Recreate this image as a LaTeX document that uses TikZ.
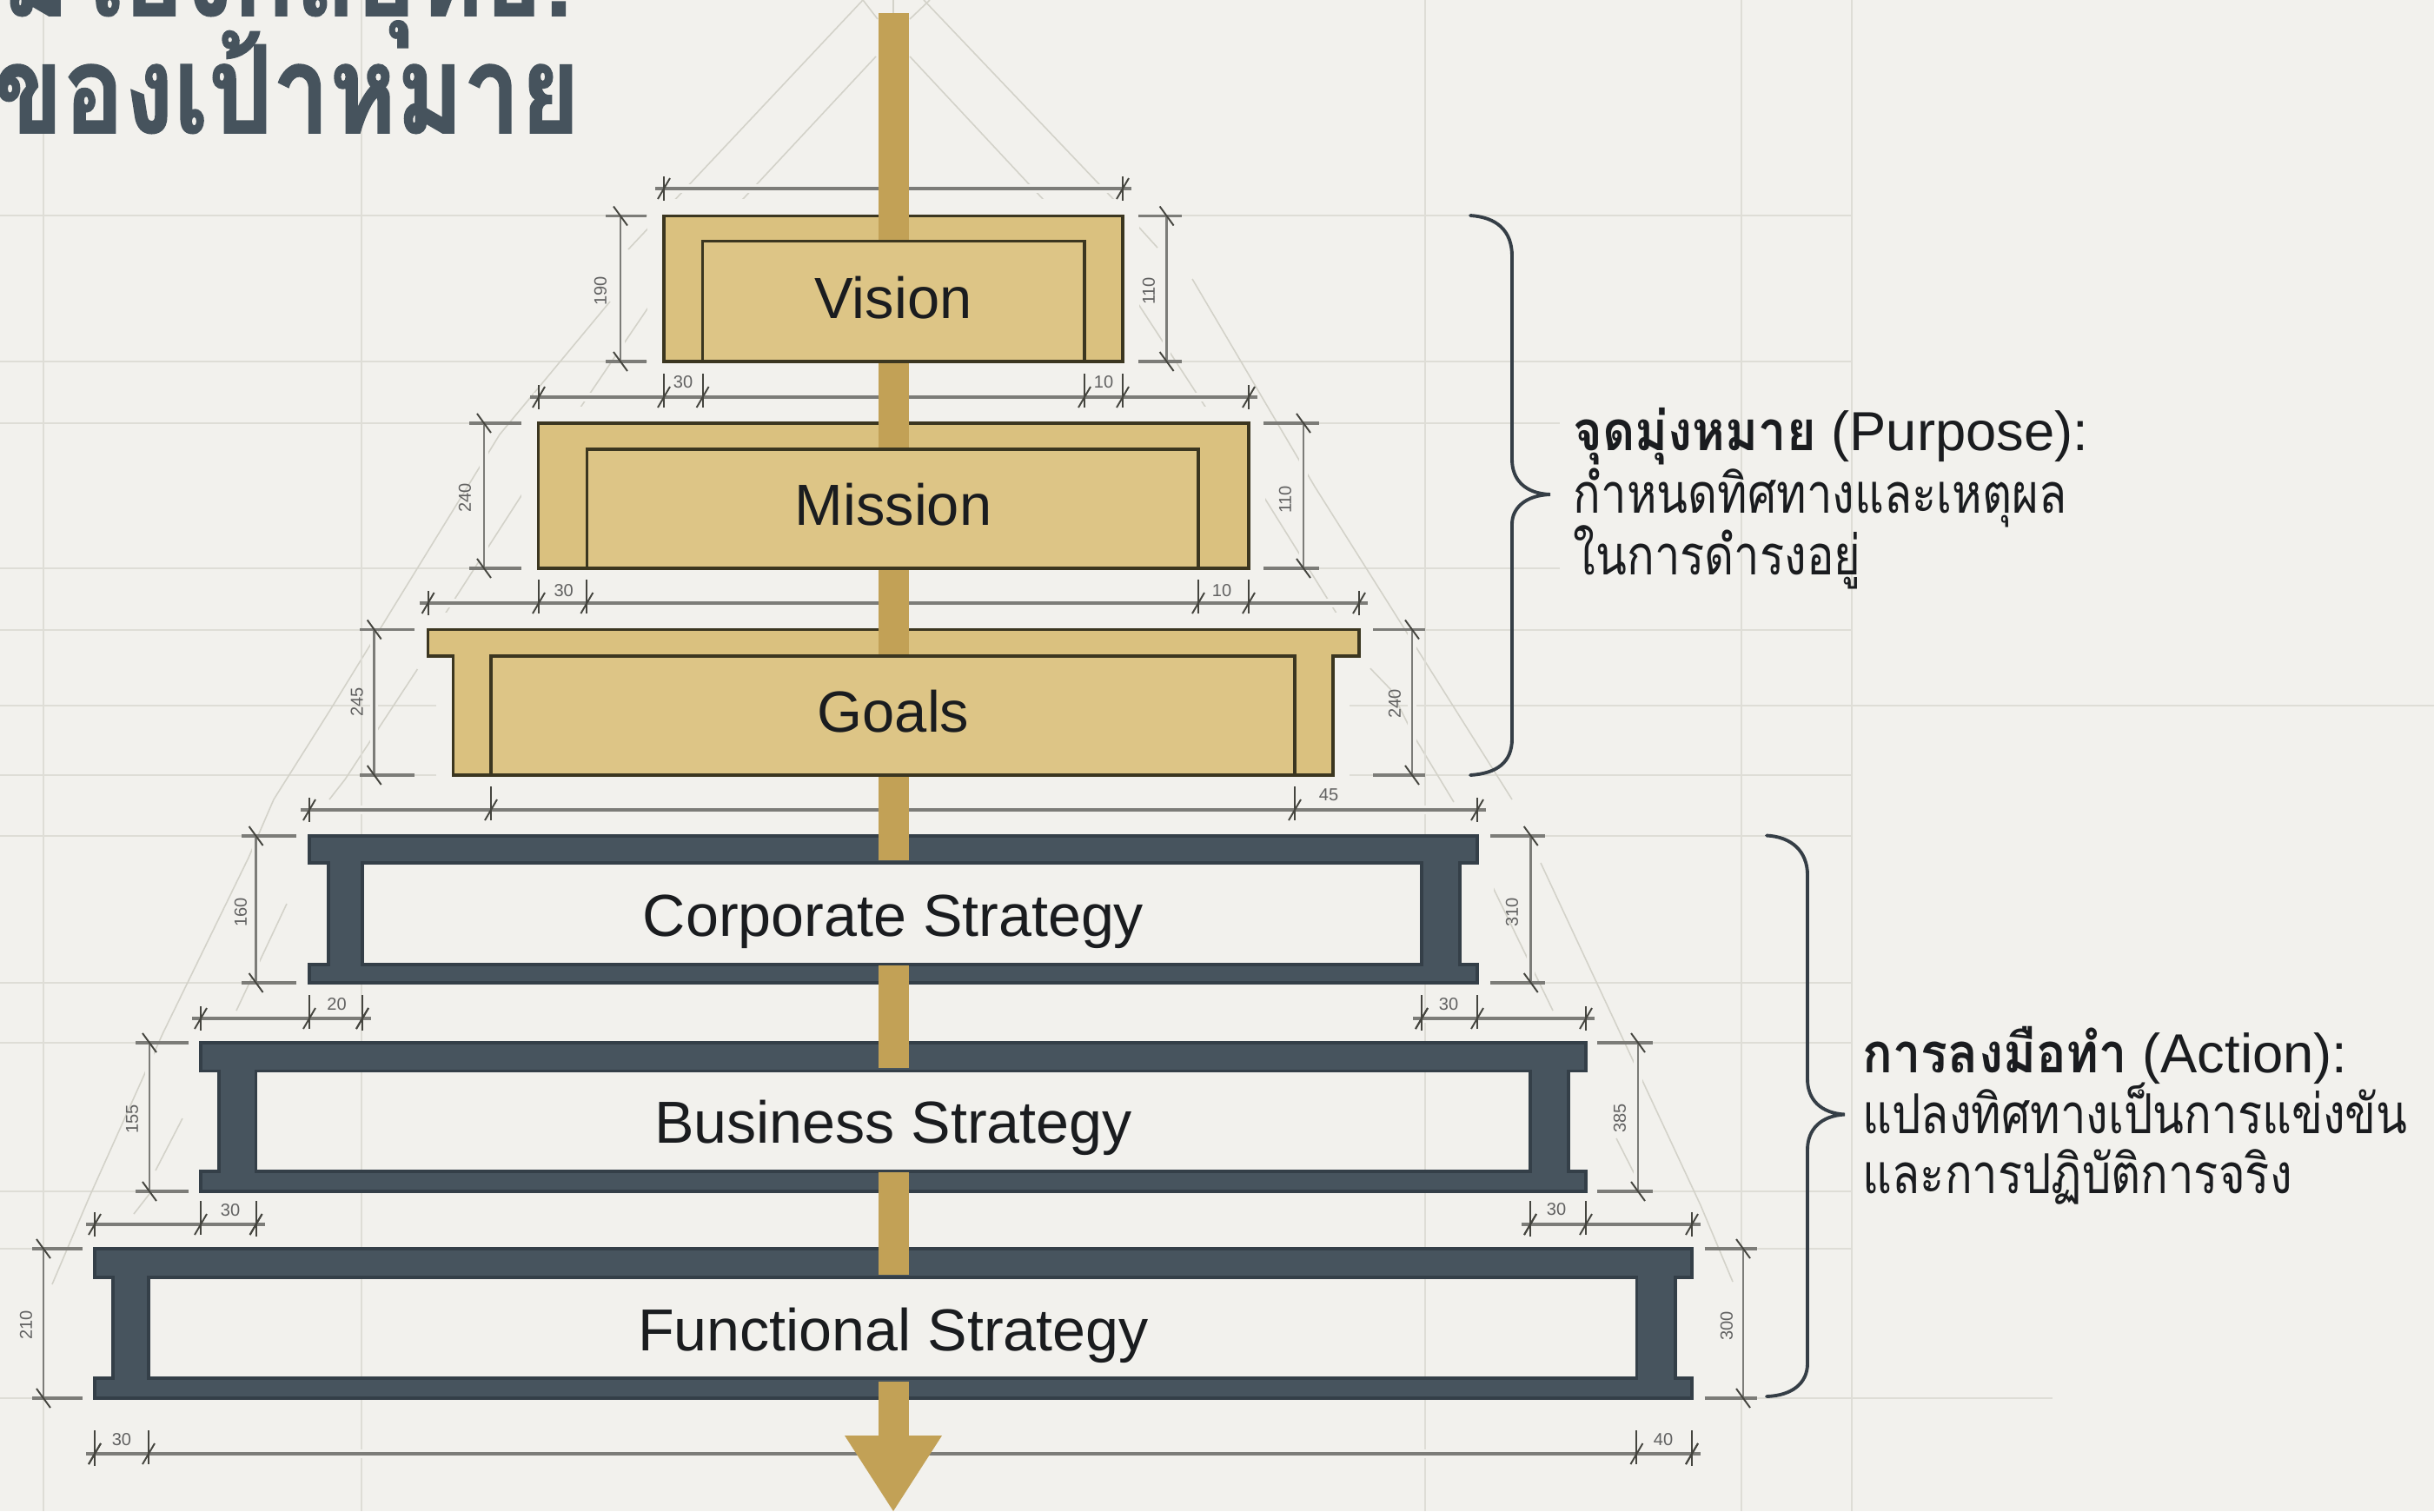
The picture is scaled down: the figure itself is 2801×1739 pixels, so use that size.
\documentclass[tikz,border=0pt]{standalone}
\usepackage{fontspec}
\setmainfont{Liberation Sans}
\newfontfamily\thaifont[Script=Thai,FakeStretch=0.83]{Loma}
\newfontfamily\thaibold[Script=Thai,FakeStretch=0.91]{Loma Bold}
\newfontfamily\thaititle[Script=Thai,FakeStretch=0.83,FakeBold=1.2]{Loma Bold}
\definecolor{pagebg}{HTML}{F2F1ED}
\definecolor{gridc}{HTML}{DEDDD6}
\definecolor{diagc}{HTML}{D3D2C9}
\definecolor{goldfill}{HTML}{DAC17F}
\definecolor{goldin}{HTML}{DDC586}
\definecolor{goldline}{HTML}{3B3620}
\definecolor{stickc}{HTML}{C2A156}
\definecolor{beam}{HTML}{47545E}
\definecolor{beamline}{HTML}{343F48}
\definecolor{titlec}{HTML}{46535D}
\definecolor{dimc}{HTML}{7C7C78}
\definecolor{tickc}{HTML}{45453F}
\definecolor{textc}{HTML}{1A1C1F}
\newcommand{\pxfont}[1]{\fontsize{#1}{#1}\selectfont}
% horizontal dimension helpers
\newcommand{\hrow}[3]{%
  \draw[halo] (#2-6,#1) -- (#3+6,#1);
  \draw[dimline] (#2-10,#1) -- (#3+10,#1);
  \foreach \tx in {#2,#3}{\draw[tickst] (\tx-7,#1+12) -- (\tx+7,#1-12); \draw[tickst] (\tx,#1-14) -- (\tx,#1+14);}}
\newcommand{\hup}[2]{\draw[tickst] (#1,#2-27) -- (#1,#2+12); \draw[tickst] (#1-7,#2+12) -- (#1+7,#2-12);}
% vertical dimension: x, y1, y2, side extension start, side extension end
\newcommand{\vrow}[5]{%
  \draw[halo] (#1,#2) -- (#1,#3);
  \draw[dimv] (#1,#2) -- (#1,#3);
  \foreach \ty in {#2,#3}{\draw[dimext] (#4,\ty) -- (#5,\ty); \draw[tickst] (#1-8,\ty-11) -- (#1+8,\ty+11);}}
\tikzset{
  halo/.style={draw=pagebg,line width=2.6pt},
  dimline/.style={draw=dimc,line width=1pt},
  dimv/.style={draw=dimc,line width=.75pt},
  dimext/.style={draw=dimc,line width=.95pt},
  tickst/.style={draw=tickc,line width=.55pt},
  gridh/.style={draw=gridc,line width=.8pt},
  gridv/.style={draw=gridc,line width=.5pt},
  diag/.style={draw=diagc,line width=.45pt},
  boxhalo/.style={draw=pagebg,fill=pagebg,line width=11pt,line join=round},
  goldbox/.style={draw=goldline,fill=goldfill,line width=1.05pt},
  goldinner/.style={draw=goldline,fill=goldin,line width=.95pt},
  beambox/.style={draw=beamline,fill=beam,line width=.9pt,even odd rule},
  stick/.style={fill=stickc,draw=none},
  bracest/.style={draw=titlec!75!black,line width=1.1pt,line cap=round},
  boxlabel/.style={text=textc,font=\pxfont{19pt},inner sep=0pt},
  steellabel/.style={text=textc,font=\pxfont{19.4pt},inner sep=0pt},
  dimlab/.style={text=black!62,font=\pxfont{5.7pt},inner sep=0pt},
  dimrot/.style={dimlab,rotate=90},
  sidelab/.style={text=textc,anchor=base west,inner sep=0pt},
  titlelab/.style={text=titlec,anchor=base east,inner sep=0pt,font=\thaititle\pxfont{40pt}},
}
\begin{document}
\begin{tikzpicture}[x=0.01cm,y=-0.01cm]
\useasboundingbox (0,0) rectangle (2801,1739);
\clip (0,0) rectangle (2801,1739);
\fill[pagebg] (0,0) rectangle (2801,1739);
% horizontal grid
\foreach \hy/\hx in {248/2131,416/2131,487/1795,654/1795,725/2131,812/2801,892/2131,962/2131,1131/2131,1200/2131,1371/2131,1437/2131,1609/2362}
  {\draw[gridh] (0,\hy) -- (\hx,\hy);}
% construction lines
\draw[diag] (1028,0) -- (1028,15);
\draw[diag] (993,0) -- (1010,22);
\draw[diag] (1070,0) -- (1047,22);
\draw[diag] (993,0) -- (723,287);
\draw[diag] (702,347) -- (575,500) -- (380,817) -- (315,920) -- (286,987) -- (187,1190) -- (103,1377) -- (60,1478);
\draw[diag] (1008,65) -- (842,243);
\draw[diag] (752,345) -- (615,547) -- (508,713);
\draw[diag] (487,760) -- (397,897) -- (379,920);
\draw[diag] (330,1040) -- (272,1163);
\draw[diag] (210,1287) -- (179,1347);
\draw[diag] (175,1370) -- (154,1397);
\draw[diag] (1063,0) -- (1282,230) -- (1332,285);
\draw[diag] (1047,65) -- (1215,245);
\draw[diag] (1372,321) -- (1513,560) -- (1740,920);
\draw[diag] (1773,993) -- (1957,1387) -- (1994,1475);
\draw[diag] (1310,350) -- (1447,560) -- (1545,717);
\draw[diag] (1568,760) -- (1600,793) -- (1627,847) -- (1673,923);
\draw[diag] (1715,1015) -- (1787,1163);
\draw[diag] (1860,1310) -- (1887,1363);
% halos round the storeys
\draw[boxhalo] (764,248.5) rectangle (1292,416);
\draw[boxhalo] (619.6,487) rectangle (1437,654);
\draw[boxhalo] (492.6,724.5) -- (1564,724.5) -- (1564,755) -- (1534,755) -- (1534,892) -- (521.6,892) -- (521.6,755) -- (492.6,755) -- cycle;
\draw[boxhalo] (356,962) -- (1700,962) -- (1700,1131) -- (356,1131) -- cycle;
\draw[boxhalo] (231,1200) -- (1825,1200) -- (1825,1371) -- (231,1371) -- cycle;
\draw[boxhalo] (109,1437) -- (1947,1437) -- (1947,1609) -- (109,1609) -- cycle;
% vertical grid
\foreach \gx in {50,416,1640,2004,2131}{\draw[gridv] (\gx,0) -- (\gx,1739);}
% horizontal dimensions
\hrow{217}{764}{1292}
\hrow{457}{620}{1437}
\foreach \tx in {764,808.6,1248,1292}{\hup{\tx}{457}}
\hrow{694}{492.6}{1564}
\foreach \tx in {620,675.4,1379,1437}{\hup{\tx}{694}}
\hrow{932}{356}{1700}
\foreach \tx in {565,1490}{\hup{\tx}{932}}
\hrow{1172}{231}{417}
\hrow{1172}{1636}{1825}
\foreach \tx in {356,417,1636,1700}{\hup{\tx}{1172}}
\hrow{1409}{109}{294.6}
\hrow{1409}{1761}{1947}
\foreach \tx in {231,294.6,1761,1825}{\hup{\tx}{1409}}
\hrow{1673}{109}{1947}
\foreach \tx in {109,171,1883.4,1947}{\hup{\tx}{1673}}
% vertical dimensions
\vrow{714}{248.5}{416}{697}{744}
\vrow{1342.6}{248.5}{416}{1310}{1360}
\vrow{557}{487}{654}{540}{600}
\vrow{1500}{487}{654}{1454}{1518}
\vrow{430.7}{724.5}{892}{414}{477}
\vrow{1625}{724.5}{892}{1580}{1640}
\vrow{294.6}{962}{1131}{278}{341}
\vrow{1761.7}{962}{1131}{1715}{1778}
\vrow{172}{1200}{1371}{156}{216.5}
\vrow{1885}{1200}{1371}{1838}{1902}
\vrow{50}{1437}{1609}{37}{95}
\vrow{2006}{1437}{1609}{1961.5}{2022}
% dimension labels
\node[dimlab] (h1) at (786,440) {30};
\node[dimlab] (h2) at (1270,440) {10};
\node[dimlab] (h3) at (648.7,680) {30};
\node[dimlab] (h4) at (1406,680) {10};
\node[dimlab] (h5) at (1529,915) {45};
\node[dimlab] (h6) at (387.5,1156) {20};
\node[dimlab] (h7) at (1667,1156) {30};
\node[dimlab] (h8) at (265,1393) {30};
\node[dimlab] (h9) at (1791,1392) {30};
\node[dimlab] (h10) at (140,1657) {30};
\node[dimlab] (h11) at (1914,1657) {40};
\node[dimrot] (v1) at (691,335) {190};
\node[dimrot] (v2) at (1322,335) {110};
\node[dimrot] (v3) at (535,573) {240};
\node[dimrot] (v4) at (1479,575) {110};
\node[dimrot] (v5) at (410.7,808) {245};
\node[dimrot] (v6) at (1605,810) {240};
\node[dimrot] (v7) at (277,1050) {160};
\node[dimrot] (v8) at (1740,1050) {310};
\node[dimrot] (v9) at (152,1288) {155};
\node[dimrot] (v10) at (1864,1287) {385};
\node[dimrot] (v11) at (30,1525) {210};
\node[dimrot] (v12) at (1987,1526) {300};
% gold storeys
\draw[goldbox] (764,248.5) rectangle (1292,416);
\draw[goldbox] (619.6,487) rectangle (1437,654);
\draw[goldbox] (492.6,724.5) -- (1564,724.5) -- (1564,755) -- (1534,755) -- (1534,892) -- (521.6,892) -- (521.6,755) -- (492.6,755) -- cycle;
% steel storeys: outline and open web, so the grid shows through
\draw[beambox] (356,962) -- (1700,962) -- (1700,993) -- (1680,993) -- (1680,1110) -- (1700,1110) -- (1700,1131) -- (356,1131) -- (356,1110) -- (378,1110) -- (378,993) -- (356,993) -- cycle
  (417,993) rectangle (1636,1110);
\draw[beambox] (231,1200) -- (1825,1200) -- (1825,1232.7) -- (1805,1232.7) -- (1805,1348) -- (1825,1348) -- (1825,1371) -- (231,1371) -- (231,1348) -- (252,1348) -- (252,1232.7) -- (231,1232.7) -- cycle
  (294.6,1232.7) rectangle (1761,1348);
\draw[beambox] (109,1437) -- (1947,1437) -- (1947,1470) -- (1928,1470) -- (1928,1586) -- (1947,1586) -- (1947,1609) -- (109,1609) -- (109,1586) -- (130,1586) -- (130,1470) -- (109,1470) -- cycle
  (171,1470) rectangle (1883.4,1586);
% central shaft
\fill[stick] (1010.5,15) rectangle (1045.6,277.6);
\fill[stick] (1010.5,417) rectangle (1045.6,517);
\fill[stick] (1010.5,655) rectangle (1045.6,755);
\fill[stick] (1010.5,893) rectangle (1045.6,990);
\fill[stick] (1010.5,1111) rectangle (1045.6,1229);
\fill[stick] (1010.5,1348.5) rectangle (1045.6,1467);
\fill[stick] (1010.5,1590) rectangle (1045.6,1652);
\fill[stick] (972,1652) -- (1084,1652) -- (1028,1739) -- cycle;
% gold inner rectangles
\draw[goldinner] (808.6,416) rectangle (1248,277.6);
\draw[goldinner] (675.4,654) rectangle (1379,517);
\draw[goldinner] (565,892) rectangle (1490,755);
% labels
\node[boxlabel] (vision) at (1028,343) {Vision};
\node[boxlabel] (mission) at (1028,581) {Mission};
\node[boxlabel] (goals) at (1028,819) {Goals};
\node[steellabel] (corp) at (1028,1061) {Corporate Strategy};
\node[steellabel] (bus) at (1028,1298) {Business Strategy};
\node[steellabel] (func) at (1028,1537) {Functional Strategy};
% braces
\draw[bracest] (1692,248) .. controls (1722,250) and (1740,265) .. (1740,295) -- (1740,529) .. controls (1740,552) and (1755,568) .. (1784,569) .. controls (1755,570) and (1740,585) .. (1740,603) -- (1740,850) .. controls (1740,878) and (1722,890) .. (1692,892);
\draw[bracest] (2033,961.5) .. controls (2062,963) and (2080,980) .. (2080,1007) -- (2080,1242) .. controls (2080,1265) and (2095,1281) .. (2123,1282.5) .. controls (2095,1284) and (2080,1300) .. (2080,1323) -- (2080,1569) .. controls (2080,1592) and (2062,1606) .. (2033,1607);
% side text
\node[sidelab] (p1) at (1810,518) {\pxfont{18pt}{\thaibold จุดมุ่งหมาย} (Purpose):};
\node[sidelab] (p2) at (1810,590) {\thaifont\pxfont{18pt}กำหนดทิศทางและเหตุผล};
\node[sidelab] (p3) at (1810,661) {\thaifont\pxfont{18pt}ในการดำรงอยู่};
\node[sidelab] (a1) at (2143,1234) {\pxfont{18pt}{\thaibold การลงมือทำ} (Action):};
\node[sidelab] (a2) at (2143,1304) {\thaifont\pxfont{18pt}แปลงทิศทางเป็นการแข่งขัน};
\node[sidelab] (a3) at (2143,1373) {\thaifont\pxfont{18pt}และการปฏิบัติการจริง};
% title, cut by the page edge
\node[titlelab] (t1) at (660,18) {มโยงกลยุทธ์:};
\node[titlelab] (t2) at (668,153) {ของเป้าหมาย};
\end{tikzpicture}
\end{document}
